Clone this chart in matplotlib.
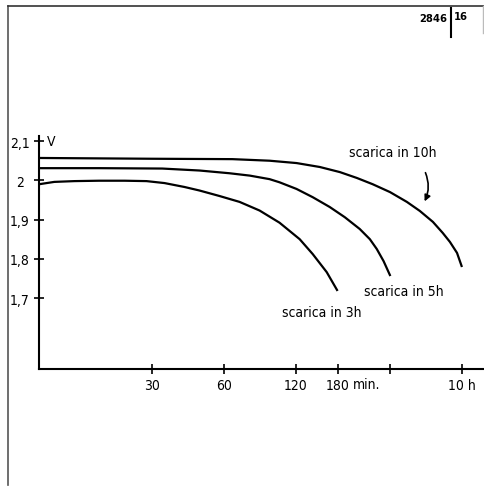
import matplotlib.pyplot as plt
from matplotlib.lines import Line2D

# discharge curves (time in minutes, voltage in V)
t_3h = [10, 11.6, 14.1, 17.9, 22.9, 28.3, 33.7, 40.9, 47.3, 57.4, 69.7, 84.6,
        102.6, 124.7, 141.5, 162, 180]
v_3h = [1.990, 1.996, 1.998, 1.999, 1.999, 1.998, 1.993, 1.983, 1.974, 1.960,
        1.945, 1.923, 1.892, 1.850, 1.812, 1.766, 1.718]

t_5h = [10, 17.9, 33, 47.3, 63.3, 77, 93.2, 102.6, 121, 141.5, 166.8, 193,
        223, 246, 263, 281, 300]
v_5h = [2.031, 2.031, 2.030, 2.025, 2.018, 2.012, 2.003, 1.995, 1.978, 1.957,
        1.932, 1.906, 1.876, 1.850, 1.825, 1.794, 1.756]

t_10h = [10, 30, 65, 93.2, 121, 151.5, 184, 217, 253, 299, 352, 399, 453,
         498, 534, 572, 600]
v_10h = [2.057, 2.055, 2.054, 2.050, 2.044, 2.034, 2.021, 2.006, 1.990, 1.970,
         1.945, 1.922, 1.894, 1.866, 1.843, 1.815, 1.779]

x_ticks = [30, 60, 120, 180, 300, 600]
x_labels = ["30", "60", "120", "180", "", "10 h"]
y_ticks = [2.1, 2.0, 1.9, 1.8, 1.7]
y_labels = ["2,1", "2", "1,9", "1,8", "1,7"]

plt.rcParams['font.family'] = ['DejaVu Sans']
plt.rcParams['font.stretch'] = 'condensed'

fig = plt.figure(figsize=(4.85, 4.89), dpi=100)
ax = fig.add_axes([39/485, 1 - 370/489, 1 - 39/485, (370 - 137)/489])

for t, v in [(t_3h, v_3h), (t_5h, v_5h), (t_10h, v_10h)]:
    ax.plot(t, v, color='black', lw=1.6, solid_capstyle='butt')

ax.set_xscale('log')
ax.set_xlim(10, 750)
ax.set_ylim(1.519, 2.113)
ax.set_xticks(x_ticks)
ax.set_xticklabels(x_labels)
ax.minorticks_off()
ax.set_yticks(y_ticks)
ax.set_yticklabels(y_labels, ha='center')

for s in ['top', 'right']:
    ax.spines[s].set_visible(False)
for s in ['left', 'bottom']:
    ax.spines[s].set_linewidth(1.5)
ax.tick_params(direction='inout', length=7, width=1.2, labelsize=10)
ax.tick_params(axis='x', pad=3)
ax.tick_params(axis='y', pad=10.4)

ax.text(10, 2.1, "  V", fontsize=10, va='center', ha='left')
ax.text(208, -0.033, "min.", fontsize=10, va='top', ha='left',
        transform=ax.get_xaxis_transform())

# curve labels
ax.text(306, 2.072, "scarica in 10h", fontsize=10, ha='center', va='center')
ax.text(343, 1.718, "scarica in 5h", fontsize=10, ha='center', va='center')
ax.text(154, 1.664, "scarica in 3h", fontsize=10, ha='center', va='center')
ax.annotate("", xy=(413, 1.94), xytext=(417, 2.026),
            arrowprops=dict(arrowstyle='-|>', color='black', lw=1.2,
                            connectionstyle='arc3,rad=-0.25', mutation_scale=9))

# page frame and reference number
fig.add_artist(Line2D([8/485, 8/485], [1 - 7/489, 1 - 486/489], color='#555555', lw=1.2))
fig.add_artist(Line2D([8/485, 484/485], [1 - 7/489, 1 - 7/489], color='#333333', lw=1.2))
fig.add_artist(Line2D([483/485, 483/485], [1 - 7/489, 1 - 34/489], color='#bbbbbb', lw=1))
fig.add_artist(Line2D([451/485, 451/485], [1 - 9/489, 1 - 38/489], color='black', lw=1.5))
fig.text(447/485, 1 - 19/489, "2846", fontsize=8, fontweight='bold', ha='right', va='center')
fig.text(454/485, 1 - 17/489, "16", fontsize=8, fontweight='bold', ha='left', va='center')

fig.savefig("out.png", dpi=100)
